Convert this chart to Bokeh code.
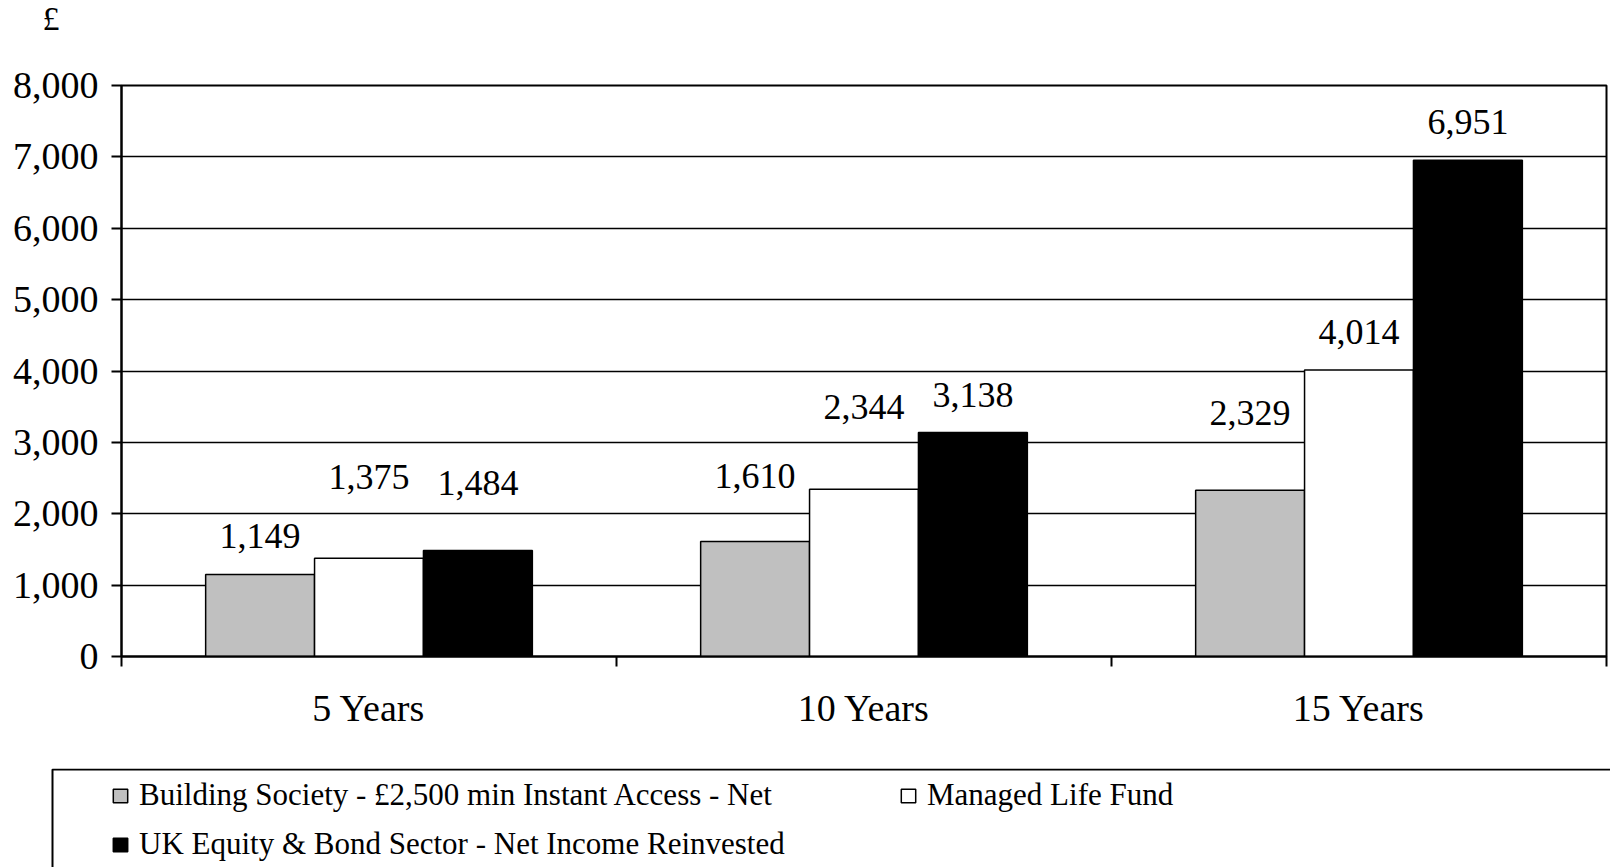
from bokeh.plotting import figure
from bokeh.layouts import column
from bokeh.models import (FactorRange, Range1d, LinearAxis, FixedTicker, NumeralTickFormatter,
                          ColumnDataSource, Legend, LegendItem, Label, BoxAnnotation)
from bokeh.transform import dodge
from bokeh.core.properties import value
from bokeh.embed import file_html
from bokeh.resources import INLINE

# ---------------- data ----------------
categories = ["5 Years", "10 Years", "15 Years"]
building_society = [1149, 1610, 2329]
managed_life_fund = [1375, 2344, 4014]
uk_equity_bond = [1484, 3138, 6951]
series_names = [
    "Building Society - £2,500 min Instant Access - Net",
    "Managed Life Fund",
    "UK Equity & Bond Sector - Net Income Reinvested",
]
y_ticks = [0, 1000, 2000, 3000, 4000, 5000, 6000, 7000, 8000]
currency_label = "£"

# ---------------- styling / layout ----------------
series_colors = ["#C0C0C0", "white", "black"]
# extra upward shift (px) of some value labels, as placed in the original chart
label_lift_bs = [0, 28, 39]
label_lift_mlf = [43, 44, 0]
label_lift_uk = [30, 0, 0]
BASE_GAP = 38

FONT = "Liberation Serif"
W = 1610
TOP_H, CHART_H, LEG_H = 40, 728, 99
BW = 0.22


def no_align(f):
    if "frame_align" in f.properties():
        f.frame_align = False
    return f


def blank_fig(h, x_range):
    f = figure(width=W, height=h, x_range=x_range, y_range=Range1d(0, 1),
               output_backend="svg", toolbar_location=None,
               x_axis_location=None, y_axis_location=None,
               min_border_left=0, min_border_right=0, min_border_top=0, min_border_bottom=0)
    f.grid.visible = False
    f.outline_line_color = None
    f.background_fill_color = "white"
    f.border_fill_color = "white"
    return no_align(f)


src = ColumnDataSource(data=dict(
    cat=categories,
    bs=building_society, mlf=managed_life_fund, uk=uk_equity_bond,
    bs_lbl=[f"{v:,}" for v in building_society],
    mlf_lbl=[f"{v:,}" for v in managed_life_fund],
    uk_lbl=[f"{v:,}" for v in uk_equity_bond],
    bs_off=[-BASE_GAP - d for d in label_lift_bs],
    mlf_off=[-BASE_GAP - d for d in label_lift_mlf],
    uk_off=[-BASE_GAP - d for d in label_lift_uk],
))
keys = ["bs", "mlf", "uk"]
offsets = [-BW, 0.0, BW]

# ---------------- top strip: currency symbol ----------------
p_top = blank_fig(TOP_H, Range1d(0, 1))
p_top.add_layout(Label(x=42, y=22, x_units="screen", y_units="screen", text=currency_label,
                       text_font=FONT, text_font_size="34px", text_color="black",
                       text_align="left", text_baseline="alphabetic"))

# ---------------- main chart ----------------
p = figure(width=W, height=CHART_H,
           x_range=FactorRange(factors=categories, range_padding=0, factor_padding=0),
           y_range=Range1d(0, y_ticks[-1]),
           output_backend="svg", toolbar_location=None, x_axis_location=None,
           min_border_left=121, min_border_right=4, min_border_top=45, min_border_bottom=112)
no_align(p)
p.background_fill_color = "white"
p.border_fill_color = "white"
p.outline_line_color = "black"
p.outline_line_width = 2
p.xgrid.visible = False
p.ygrid.grid_line_color = "black"
p.ygrid.grid_line_width = 1.5
p.ygrid.ticker = FixedTicker(ticks=y_ticks)

for key, color, off in zip(keys, series_colors, offsets):
    p.vbar(x=dodge("cat", off, range=p.x_range), top=key, width=BW, source=src,
           fill_color=color, line_color="black", line_width=1.5)
    p.text(x=dodge("cat", off, range=p.x_range), y=key, text=key + "_lbl", source=src,
           text_align="center", text_baseline="alphabetic", y_offset=key + "_off",
           text_font=value(FONT), text_font_size="36px", text_color="black")

ya = p.yaxis[0]
ya.ticker = FixedTicker(ticks=y_ticks)
ya.formatter = NumeralTickFormatter(format="0,0")
ya.major_label_text_font = FONT
ya.major_label_text_font_size = "38px"
ya.major_label_text_color = "black"
ya.major_tick_out = 10
ya.major_tick_in = 0
ya.minor_tick_line_color = None
ya.major_tick_line_width = 2
ya.major_tick_line_color = "black"
ya.axis_line_width = 2
ya.axis_line_color = "black"
ya.major_label_standoff = 13

xa = LinearAxis(ticker=FixedTicker(ticks=[i + 0.5 for i in range(len(categories))],
                                   minor_ticks=list(range(len(categories) + 1))),
                major_label_overrides={i + 0.5: c for i, c in enumerate(categories)})
xa.major_tick_in = 0
xa.major_tick_out = 0
xa.major_tick_line_color = None
xa.minor_tick_in = 0
xa.minor_tick_out = 10
xa.minor_tick_line_color = "black"
xa.minor_tick_line_width = 2
xa.axis_line_color = "black"
xa.axis_line_width = 2
xa.major_label_text_font = FONT
xa.major_label_text_font_size = "38px"
xa.major_label_text_color = "black"
xa.major_label_standoff = 20
p.add_layout(xa, "below")

# ---------------- legend strip ----------------
p_leg = blank_fig(LEG_H, FactorRange(factors=categories, range_padding=0, factor_padding=0))
# hidden copies of the series, only used to give the legend its swatches
leg_r = [p_leg.vbar(x="cat", top=key, width=BW, source=src, fill_color=c,
                    line_color="black", line_width=1.5, visible=False)
         for key, c in zip(keys, series_colors)]
p_leg.add_layout(BoxAnnotation(left=52, right=5000, top=98, bottom=-200,
                               left_units="screen", right_units="screen",
                               top_units="screen", bottom_units="screen",
                               fill_alpha=0, line_color="black", line_alpha=1, line_width=2))
common = dict(border_line_color=None, background_fill_alpha=0, padding=0, margin=0,
              spacing=13, label_text_font=FONT, label_text_font_size="31px",
              label_text_color="black", glyph_width=18, glyph_height=17,
              label_standoff=10, label_height=36)
leg1 = Legend(items=[LegendItem(label=series_names[0], renderers=[leg_r[0]]),
                     LegendItem(label=series_names[2], renderers=[leg_r[2]])],
              location=(111, 5), **common)
leg2 = Legend(items=[LegendItem(label=series_names[1], renderers=[leg_r[1]])],
              location=(899, 54), **common)
p_leg.add_layout(leg1)
p_leg.add_layout(leg2)

layout = column(p_top, p, p_leg, spacing=0)
open("out.html", "w").write(file_html(layout, INLINE))
